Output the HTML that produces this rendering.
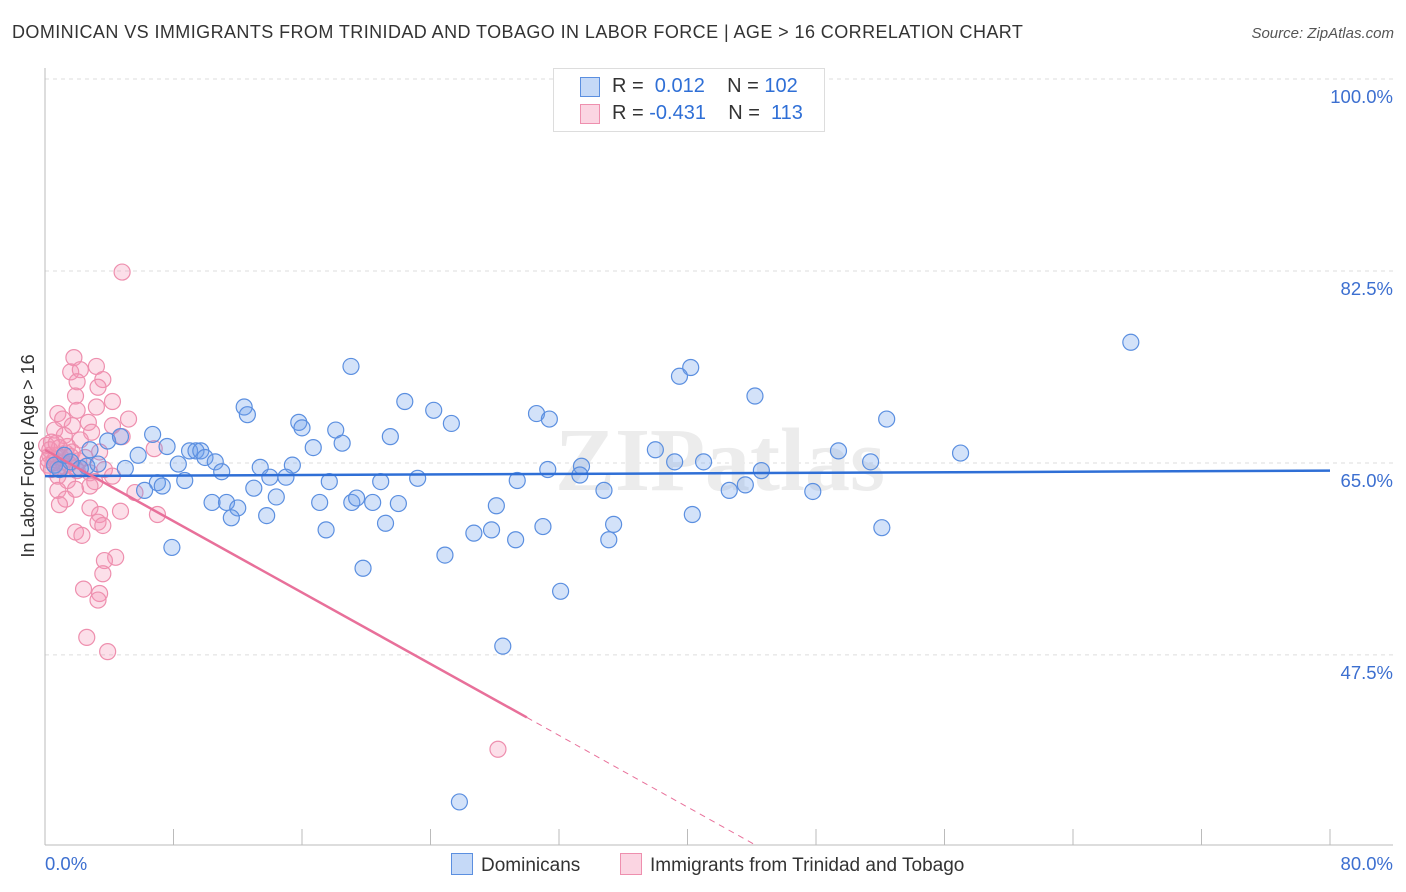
<!DOCTYPE html>
<html><head><meta charset="utf-8">
<style>
body{margin:0;background:#fff;font-family:"Liberation Sans",sans-serif;}
#wrap{position:relative;width:1406px;height:892px;overflow:hidden;}
.t{position:absolute;white-space:nowrap;}
</style></head>
<body>
<div id="wrap">
<div class="t" style="left:12px;top:22px;font-size:18px;color:#333;letter-spacing:0.42px;">DOMINICAN VS IMMIGRANTS FROM TRINIDAD AND TOBAGO IN LABOR FORCE | AGE &gt; 16 CORRELATION CHART</div>
<div class="t" style="right:12px;top:25px;font-size:15px;color:#555;font-style:italic;">Source: ZipAtlas.com</div>
<svg id="svg" width="1406" height="892" style="position:absolute;left:0;top:0"></svg>
</div>
<script>
const yTicks=[100,82.5,65,47.5];
const yTickLabels=["100.0%","82.5%","65.0%","47.5%"];
const xMin=0,xMax=80;
const blueX=[67.6,19.05,40.2,39.5,44.2,22.4,12.4,12.6,24.2,30.6,31.4,52.4,15.8,25.3,16.0,18.1,21.5,6.7,18.5,16.7,3.9,4.7,7.6,9.0,9.4,9.7,9.96,5.8,38.0,49.4,57.0,39.2,41.0,51.4,8.3,10.6,13.4,15.4,11.0,14.0,15.0,33.4,31.3,44.6,5.0,2.6,3.3,23.2,29.4,33.3,17.7,20.9,8.7,7.0,7.3,6.2,13.0,34.8,43.6,42.6,47.8,14.4,10.4,11.3,17.1,19.1,19.4,20.4,22.0,28.1,12.0,11.6,13.8,40.3,35.4,21.2,17.5,27.8,31.0,26.7,52.1,29.3,35.1,7.9,24.9,19.8,32.1,28.5,25.8,0.6,0.9,1.6,2.2,1.2,2.8];
const blueY=[76.0,73.8,73.7,72.9,71.1,70.6,70.1,69.4,69.8,69.5,69.0,69.0,68.7,68.6,68.2,68.0,67.4,67.6,66.8,66.4,67.0,67.4,66.5,66.1,66.1,66.1,65.5,65.7,66.2,66.1,65.9,65.1,65.1,65.1,64.9,65.1,64.6,64.8,64.2,63.7,63.7,64.7,64.4,64.3,64.5,64.7,64.9,63.6,63.4,63.9,63.3,63.3,63.4,63.2,62.9,62.5,62.7,62.5,63.0,62.5,62.4,61.9,61.4,61.4,61.4,61.4,61.8,61.4,61.3,61.1,60.9,60.0,60.2,60.3,59.4,59.5,58.9,58.9,59.2,58.6,59.1,58.0,58.0,57.3,56.6,55.4,53.3,48.3,34.1,64.8,64.4,65.1,64.5,65.7,66.2];
const pinkX=[4.8,28.2,1.8,3.2,1.6,2.2,3.6,2.0,3.3,1.9,4.2,3.2,0.8,2.0,5.2,2.7,1.1,4.2,1.7,0.6,2.9,4.8,1.2,2.2,0.4,1.4,6.8,3.4,0.7,2.5,1.1,0.2,1.9,3.7,2.8,0.8,1.4,3.1,4.2,0.8,1.9,2.8,5.6,1.3,0.9,2.8,4.7,7.0,3.4,3.3,3.6,1.9,2.3,4.4,3.7,3.6,2.4,3.4,3.3,2.6,3.9,0.3,0.6,1.2,1.7,0.4,0.9,2.1,0.1,0.5,1.0,1.5,0.3,0.8,1.3,2.0,0.2,0.7,1.6];
const pinkY=[82.4,38.9,74.6,73.8,73.3,73.5,72.6,72.4,71.9,71.1,70.6,70.1,69.5,69.8,69.0,68.7,69.0,68.4,68.4,68.0,67.8,67.4,67.5,67.1,66.9,66.5,66.3,66.0,65.7,65.5,65.1,64.8,64.5,64.4,64.1,63.8,63.4,63.3,63.8,62.5,62.6,62.9,62.3,61.7,61.2,60.9,60.6,60.3,60.3,59.6,59.3,58.7,58.4,56.4,56.1,54.9,53.5,53.1,52.5,49.1,47.8,65.7,65.3,64.7,66.0,64.4,66.4,65.2,66.6,65.0,65.5,64.9,66.2,64.6,65.9,64.3,65.3,66.8,65.6];
const blueTrend=[[0,63.8],[80,64.3]];
const pinkTrend=[[0,66.2],[30,41.8],[44.2,30.2]];

const L=45,R=1330,T=79;
const pxPerPct=10.97;
const sx=v=>L+(v-xMin)/(xMax-xMin)*(R-L);
const sy=v=>T+(100-v)*pxPerPct;
const svg=document.getElementById('svg');
const NS='http://www.w3.org/2000/svg';
function mk(tag,attrs){const e=document.createElementNS(NS,tag);for(const k in attrs)e.setAttribute(k,attrs[k]);svg.appendChild(e);return e;}

yTicks.forEach((v,i)=>{
  const g=mk('line',{x1:L,x2:1393,y1:sy(v),y2:sy(v),stroke:'#ddd','stroke-dasharray':'4,4'});
  
  
  const t=mk('text',{x:1393,y:sy(v)+24,'text-anchor':'end','font-size':18.5,fill:'#3c6fd0','font-family':'Liberation Sans'});
  t.textContent=yTickLabels[i];
  
  
});
const ya=mk('line',{x1:L,x2:L,y1:68,y2:845,stroke:'#bbb'});


const xa=mk('line',{x1:L,x2:1393,y1:845,y2:845,stroke:'#bbb'});


for(let v=0;v<=80;v+=8){
  const tk=mk('line',{x1:sx(v),x2:sx(v),y1:829,y2:845,stroke:'#bbb'});
  
  
}
[[0,'0.0%','start',45],[80,'80.0%','end',1393]].forEach(a=>{
  const t=mk('text',{x:a[3],y:870,'text-anchor':a[2],'font-size':18.5,fill:'#3c6fd0','font-family':'Liberation Sans'});
  t.textContent=a[1];
  
  
});
const yt=mk('text',{x:34,y:456,'text-anchor':'middle','font-size':18,fill:'#333','font-family':'Liberation Sans',transform:'rotate(-90 34 456)'});
yt.textContent='In Labor Force | Age > 16';


const wm=mk('text',{x:720,y:490,'text-anchor':'middle','font-size':90,fill:'#ececec','font-family':'Liberation Serif','font-weight':'bold'});
wm.textContent='ZIPatlas';



pinkX.forEach((x,i)=>{
  const c=mk('circle',{cx:sx(x),cy:sy(pinkY[i]),r:8,fill:'rgba(244,150,182,0.3)',stroke:'#ee8fae','stroke-width':1.2});
  
  
});
blueX.forEach((x,i)=>{
  const c=mk('circle',{cx:sx(x),cy:sy(blueY[i]),r:8,fill:'rgba(110,160,235,0.3)',stroke:'#5b8fe0','stroke-width':1.2});
  
  
});
const bt=mk('line',{x1:sx(blueTrend[0][0]),y1:sy(blueTrend[0][1]),x2:sx(blueTrend[1][0]),y2:sy(blueTrend[1][1]),stroke:'#2f6fd6','stroke-width':2.5});


const pt=mk('line',{x1:sx(pinkTrend[0][0]),y1:sy(pinkTrend[0][1]),x2:sx(pinkTrend[1][0]),y2:sy(pinkTrend[1][1]),stroke:'#e8709a','stroke-width':2.5});


const pd=mk('line',{x1:sx(pinkTrend[1][0]),y1:sy(pinkTrend[1][1]),x2:sx(pinkTrend[2][0]),y2:sy(pinkTrend[2][1]),stroke:'#e8709a','stroke-width':1,'stroke-dasharray':'6,5'});


</script>
<div class="t" style="left:553px;top:68px;width:270px;height:62px;border:1px solid #ddd;background:#fff;font-size:20px;color:#333;">
  <div style="position:absolute;left:26px;top:8px;width:18px;height:18px;background:rgba(110,160,235,0.4);border:1px solid #5b8fe0;"></div>
  <div style="position:absolute;left:58px;top:6px;">R = &nbsp;<span style="color:#2f6fd6">0.012</span>&nbsp;&nbsp;&nbsp; N = <span style="color:#2f6fd6">102</span></div>
  <div style="position:absolute;left:26px;top:35px;width:18px;height:18px;background:rgba(244,150,182,0.4);border:1px solid #ee8fae;"></div>
  <div style="position:absolute;left:58px;top:33px;">R = <span style="color:#2f6fd6">-0.431</span>&nbsp;&nbsp;&nbsp; N = &nbsp;<span style="color:#2f6fd6">113</span></div>
</div>
<div class="t" style="left:451px;top:853px;font-size:19px;color:#333;">
  <span style="display:inline-block;width:20px;height:20px;background:rgba(110,160,235,0.4);border:1px solid #5b8fe0;vertical-align:-4px;margin-right:8px;"></span>Dominicans</div>
<div class="t" style="left:620px;top:853px;font-size:19px;color:#333;">
  <span style="display:inline-block;width:20px;height:20px;background:rgba(244,150,182,0.4);border:1px solid #ee8fae;vertical-align:-4px;margin-right:8px;"></span>Immigrants from Trinidad and Tobago</div>
</body></html>
